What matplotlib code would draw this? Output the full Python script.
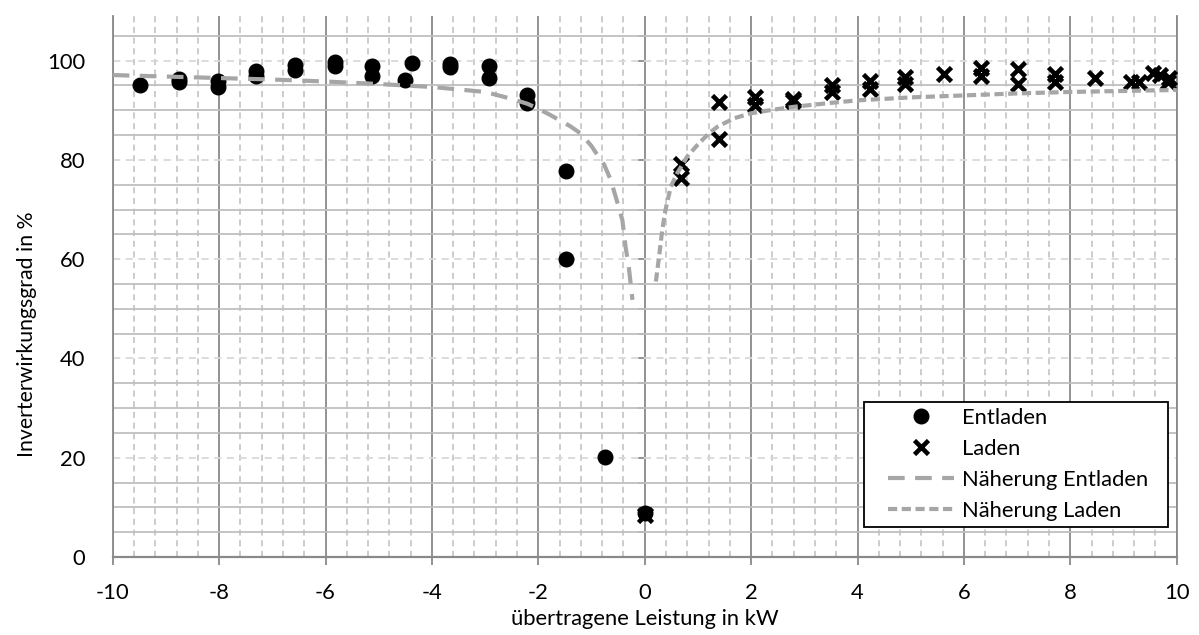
import numpy as np
import matplotlib
matplotlib.use("Agg")
import matplotlib.pyplot as plt
from matplotlib.ticker import MultipleLocator
from matplotlib.lines import Line2D
from matplotlib.patches import Rectangle

plt.rcParams['font.family'] = ['Lato', 'DejaVu Sans']

# --- data ---
entladen_x = [-9.49, -8.76, -8.76, -8.02, -8.02, -7.30, -7.30, -6.57, -6.57,
              -5.83, -5.83, -5.13, -5.13, -4.38, -4.50, -3.66, -3.66, -2.93, -2.93,
              -2.21, -2.21, -1.48, -1.48, -0.75, 0.0]
entladen_y = [95.1, 96.3, 95.8, 96.0, 94.7, 98.0, 97.0, 99.1, 98.1,
              99.7, 98.9, 99.0, 96.9, 99.5, 96.1, 99.4, 98.8, 99.0, 96.5,
              93.0, 91.5, 77.8, 60.1, 20.1, 8.8]

laden_x = [0.0, 0.69, 0.69, 1.40, 1.40, 2.08, 2.08, 2.79, 2.79, 3.52, 3.52,
           4.23, 4.23, 4.90, 4.90, 5.62, 6.32, 6.32, 7.02, 7.02, 7.72, 7.72,
           8.46, 9.14, 9.29, 9.55, 9.68, 9.86, 9.84]
laden_y = [8.5, 79.1, 76.3, 91.7, 84.2, 92.7, 91.0, 92.3, 91.8, 95.0, 93.7,
           96.0, 94.3, 96.7, 95.3, 97.3, 98.5, 96.9, 98.4, 95.2, 97.4, 95.8,
           96.6, 95.8, 95.8, 97.6, 97.2, 96.6, 95.8]

naeh_entladen_x = [-10, -9, -8, -7, -6, -5, -4, -3.5, -3, -2.5, -2.2, -2, -1.8,
                   -1.6, -1.4, -1.2, -1.0, -0.89, -0.76, -0.64, -0.51, -0.42,
                   -0.36, -0.30, -0.23]
naeh_entladen_y = [97.1, 96.8, 96.5, 96.2, 95.8, 95.3, 94.7, 94.2, 93.7, 92.3,
                   91.3, 90.3, 89.2, 88.0, 86.8, 85.3, 82.8, 81.0, 79.0, 76.0,
                   71.3, 67.9, 62.5, 58.5, 51.8]

naeh_laden_x = [0.21, 0.27, 0.33, 0.39, 0.49, 0.61, 0.80, 0.99, 1.21, 1.37, 1.68,
                2.0, 2.4, 2.8, 3.5, 4, 5, 6, 7, 8, 9, 10]
naeh_laden_y = [55.5, 60.5, 65.9, 69.9, 74.6, 77.3, 80.7, 83.0, 85.4, 86.7, 88.4,
                89.4, 90.1, 90.7, 91.5, 92.0, 92.6, 93.0, 93.4, 93.7, 93.9, 94.1]

x_ticks = [-10, -8, -6, -4, -2, 0, 2, 4, 6, 8, 10]
y_ticks = [0, 20, 40, 60, 80, 100]

labels = ["Entladen", "Laden", "Näherung Entladen", "Näherung Laden"]
x_label = "übertragene Leistung in kW"
y_label = "Inverterwirkungsgrad in %"

# --- figure ---
fig = plt.figure(figsize=(11.99, 6.35), dpi=100)
ax = fig.add_axes([112.7 / 1199, 1 - 557 / 635, (1176.7 - 112.7) / 1199, (557 - 16) / 635])

FS = 15.8
dark = '#898989'
light = '#BFBFBF'
curve = '#A6A6A6'

ax.set_xlim(-10, 10)
ax.set_ylim(0, 109)
ax.set_xticks(x_ticks)
ax.set_xticklabels([str(v) for v in x_ticks])
ax.set_yticks(y_ticks)
ax.set_yticklabels([str(v) for v in y_ticks])
ax.xaxis.set_minor_locator(MultipleLocator(0.4))
ax.yaxis.set_minor_locator(MultipleLocator(5))

ax.grid(which='major', axis='x', color=dark, lw=1.3, ls='-')
ax.grid(which='minor', axis='x', color=light, lw=1.1, ls=(0, (4, 3)))
ax.grid(which='major', axis='y', color='#D9D9D9', lw=1.3, ls=(0, (4, 3)))
ax.grid(which='minor', axis='y', color=light, lw=1.3, ls='-')
ax.set_axisbelow(True)

ax.tick_params(axis='x', which='major', direction='out', length=6, width=1.3,
               color=dark, labelsize=FS, pad=13)
ax.tick_params(axis='x', which='minor', length=0)
ax.tick_params(axis='y', which='both', length=0, labelsize=FS, pad=20)

for s in ['left', 'right', 'bottom']:
    ax.spines[s].set_color(dark)
    ax.spines[s].set_linewidth(1.3)
ax.spines['top'].set_visible(False)
ax.spines['bottom'].set_linewidth(1.6)

# vertical axis crossing at x = 0 with tick marks
sec = ax.secondary_yaxis(0.5)
sec.yaxis.set_ticks_position('left')
sec.set_yticks(np.arange(0, 106, 5))
sec.tick_params(axis='y', direction='out', length=5, width=1.3, color=dark,
                labelleft=False, labelright=False)
sec.spines['left'].set_color(dark)
sec.spines['left'].set_linewidth(1.3)
for s in ['right', 'top', 'bottom']:
    sec.spines[s].set_visible(False)

# --- data ---
ax.plot(entladen_x, entladen_y, ls='none', marker='o', ms=10.5, color='black', zorder=3)
ax.plot(laden_x, laden_y, ls='none', marker='x', ms=9.5, mew=3.3, color='black', zorder=3)
ax.plot(naeh_entladen_x, naeh_entladen_y, color=curve, lw=3, ls=(0, (4, 2.5)), zorder=4)
ax.plot(naeh_laden_x, naeh_laden_y, color=curve, lw=3, ls=(0, (2.2, 1.1)), zorder=4)

ax.set_xlabel(x_label, fontsize=FS, labelpad=4)
ax.set_ylabel(y_label, fontsize=15.3)
ax.yaxis.set_label_coords(-0.071, 0.412)

# legend: frame drawn separately (wider horizontal padding as in the reference)
ax.add_patch(Rectangle((0.706, 0.0555), 0.286, 0.231, transform=ax.transAxes,
                       facecolor='white', edgecolor='black', lw=1.3, zorder=4.5))
handles = [
    Line2D([], [], ls='none', marker='o', ms=10.5, color='black'),
    Line2D([], [], ls='none', marker='x', ms=9.5, mew=3.3, color='black'),
    Line2D([], [], color=curve, lw=3, ls=(0, (4, 2.5))),
    Line2D([], [], color=curve, lw=3, ls=(0, (2.2, 1.1))),
]
leg = ax.legend(handles, labels, loc='center right', bbox_to_anchor=(0.973, 0.171),
                fontsize=FS, frameon=False, handlelength=3.0, labelspacing=0.5,
                borderpad=0, handletextpad=0.35, borderaxespad=0)
leg.set_zorder(5)

fig.savefig("out.png", dpi=100)
